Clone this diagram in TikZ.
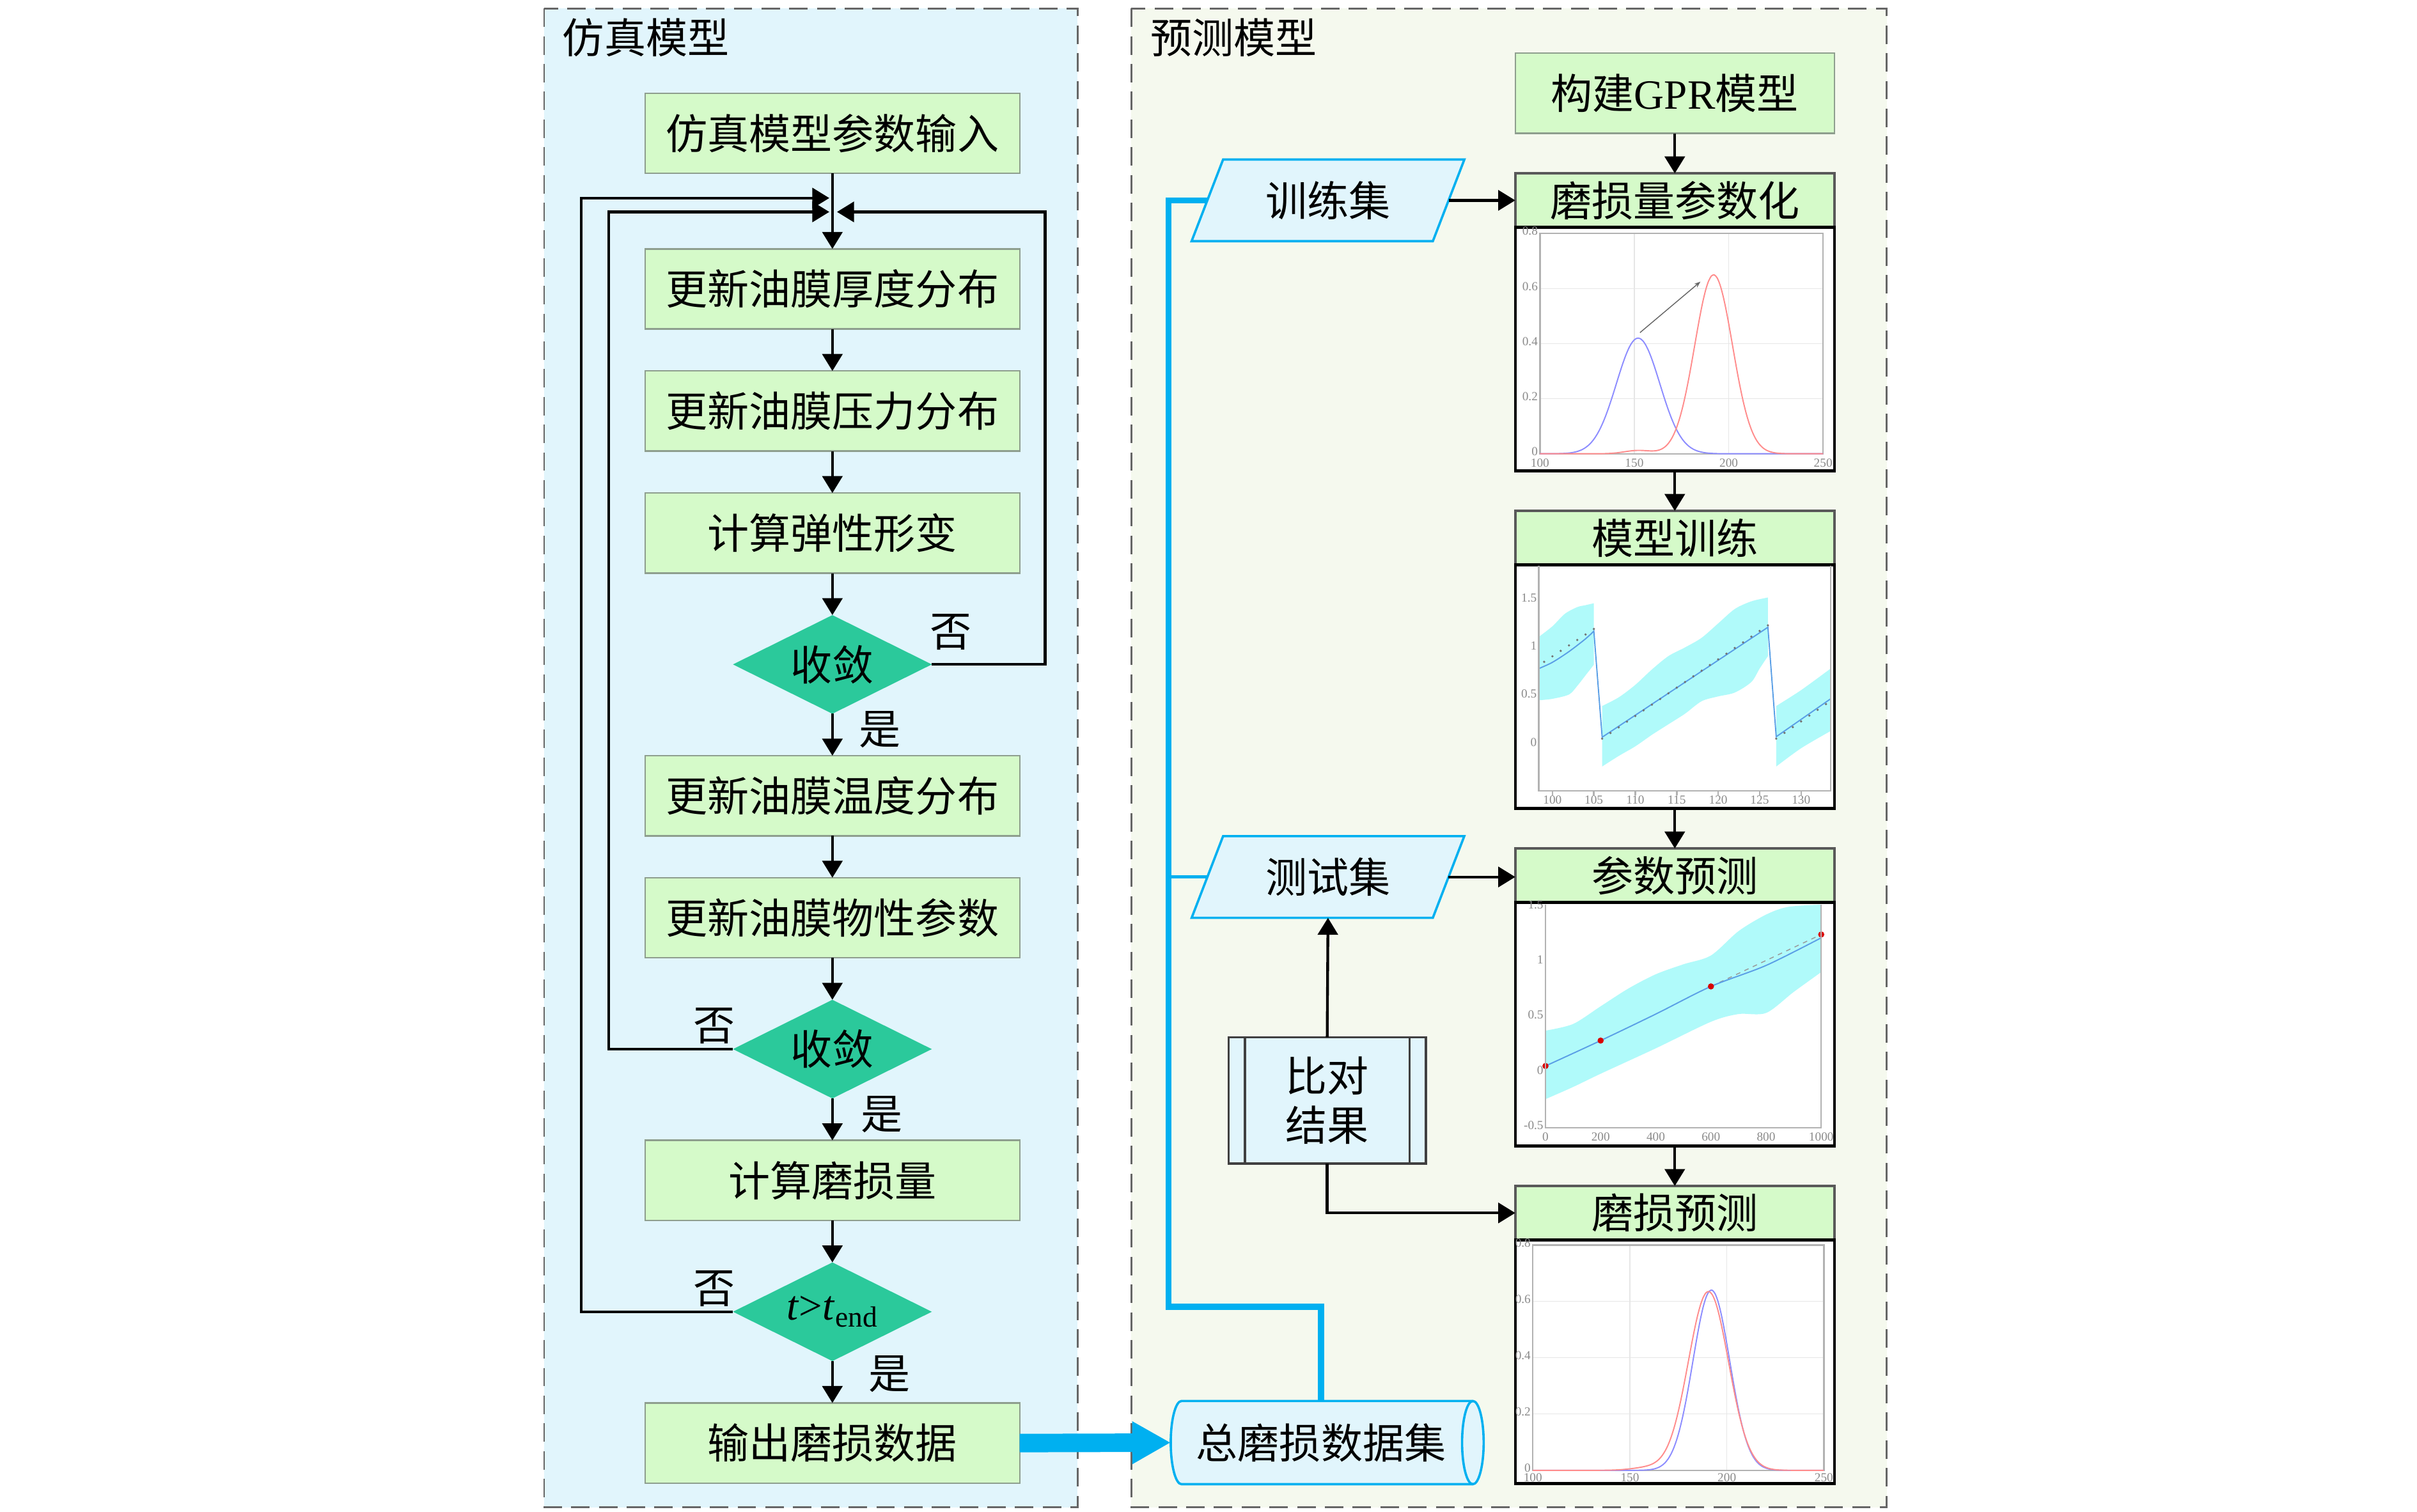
\documentclass[tikz,border=0pt]{standalone}
\usepackage{fontspec}
\setmainfont{Liberation Serif}
\newfontfamily\cjk{Noto Sans CJK SC}
\usetikzlibrary{positioning, shapes.geometric, arrows.meta}

\definecolor{simbg}{HTML}{E1F5FC}
\definecolor{predbg}{HTML}{F5F9EE}
\definecolor{boxgreen}{HTML}{D5FAC9}
\definecolor{boxedge}{HTML}{8E9E8E}
\definecolor{decgreen}{HTML}{2BC99B}
\definecolor{flowblue}{HTML}{00B0F0}
\definecolor{bandcyan}{HTML}{B0FAFA}
\definecolor{meanblue}{HTML}{5A9FE6}
\definecolor{ticklbl}{HTML}{8A8A8A}
\definecolor{gridgray}{HTML}{E6E6E6}

\begin{document}
\begin{tikzpicture}[x=1pt,y=-1pt]
\tikzset{every node/.style={font=\cjk\fontsize{27}{32}\selectfont}}
\tikzset{node distance=27.2pt}
\tikzset{simbox/.style={draw=boxedge, fill=boxgreen, line width=1pt, minimum width=243pt, minimum height=52pt, inner sep=0pt, outer sep=0pt}}
\tikzset{judge/.style={diamond, aspect=2, fill=decgreen, minimum width=129pt, minimum height=64pt, inner sep=0pt, outer sep=0pt}}
\tikzset{flow/.style={line width=1.8pt, -{Triangle[length=11pt,width=13pt]}}}
\tikzset{yesno/.style={inner sep=0pt}}
\tikzset{panel/.style={dash pattern=on 12pt off 6pt, draw=black!60, line width=1.2pt}}
\tikzset{hdr/.style={draw=black!65, fill=boxgreen, line width=1.5pt, minimum width=207pt, minimum height=35pt, inner sep=0pt, outer sep=0pt}}
\tikzset{plotbox/.style={draw=black, fill=white, line width=1.8pt, minimum width=207pt, minimum height=158pt, inner sep=0pt, outer sep=0pt}}
\tikzset{dataset/.style={trapezium, trapezium left angle=64, trapezium right angle=116, trapezium stretches=true, draw=flowblue, fill=simbg, line width=1.5pt, minimum width=177pt, minimum height=53pt, inner sep=0pt, outer sep=0pt}}
\tikzset{trunk/.style={draw=flowblue, line width=4pt}}
\tikzset{branch/.style={draw=flowblue, line width=2pt}}
\tikzset{bigarrow/.style={draw=flowblue, line width=12pt, -{Triangle[length=25pt,width=26pt]}}}
\tikzset{ticklab/.style={font=\fontsize{8}{9}\selectfont, text=ticklbl, inner sep=1.2pt}}
\tikzset{xlab/.style={ticklab, below, inner sep=0pt, yshift=-3pt}}
\tikzset{ylab/.style={ticklab, left, yshift=1.5pt}}
\tikzset{gridln/.style={draw=gridgray, line width=0.6pt}}
\tikzset{axisln/.style={draw=black!30, line width=1pt}}

\useasboundingbox (0,0) rectangle (1568,981);

% two model frames
\draw[panel, fill=simbg] (353,5.5) rectangle (699,978);
\draw[panel, fill=predbg] (734,5.5) rectangle (1224,978);
\node (simtitle) at (419,24.5) {仿真模型};
\node (predtitle) at (800.5,24.5) {预测模型};

% simulation loop
\node[simbox] (input) at (540,86.5) {仿真模型参数输入};
\node[simbox, below=49pt of input] (thick) {更新油膜厚度分布};
\node[simbox, below=of thick] (press) {更新油膜压力分布};
\node[simbox, below=of press] (deform) {计算弹性形变};
\node[judge, below=of deform] (conv1) {收敛};
\node[simbox, below=of conv1] (temp) {更新油膜温度分布};
\node[simbox, below=of temp] (prop) {更新油膜物性参数};
\node[judge, below=of prop] (conv2) {收敛};
\node[simbox, below=of conv2] (wear) {计算磨损量};
\node[judge, below=of wear] (tend) {{\rmfamily\textit{t}>\textit{t}\textsubscript{end}}};
\node[simbox, below=of tend] (out) {输出磨损数据};

\foreach \a/\b in {input/thick, thick/press, press/deform, deform/conv1, conv1/temp, temp/prop, prop/conv2, conv2/wear, wear/tend, tend/out}
  \draw[flow] (\a.south) -- (\b.north);

\coordinate (jout) at (538,128.5);
\coordinate (jin) at (538,137.5);
\coordinate (jright) at (543,137.5);
\draw[flow] (conv1.east) -| ([xshift=135pt]jright) -- (jright);
\draw[flow] (conv2.west) -| ([xshift=-143pt]jin) -- (jin);
\draw[flow] (tend.west) -| ([xshift=-161pt]jout) -- (jout);

\node[yesno] (no1) at (617,410) {否};
\node[yesno] (yes1) at (571,473.5) {是};
\node[yesno] (no2) at (463.5,665.5) {否};
\node[yesno] (yes2) at (572,723) {是};
\node[yesno] (no3) at (463.5,836) {否};
\node[yesno] (yes3) at (577,891.5) {是};

% data sets
\node[minimum width=203pt, minimum height=54pt, inner sep=0pt, outer sep=0pt] (db) at (861,936) {};
\draw[flowblue, fill=simbg, line width=1.5pt] ([xshift=7pt]db.north west) -- ([xshift=-7pt]db.north east)
  arc[start angle=90, end angle=-90, x radius=7pt, y radius=27pt] -- ([xshift=7pt]db.south west)
  arc[start angle=270, end angle=90, x radius=7pt, y radius=27pt] -- cycle;
\draw[flowblue, line width=1.5pt] ([xshift=-7pt]db.north east) arc[start angle=90, end angle=270, x radius=7pt, y radius=27pt];
\node (dbtext) at ([xshift=-4pt]db.center) {总磨损数据集};
\node[dataset] (trainset) at (861.5,130) {训练集};
\node[dataset] (testset) at (861.5,569) {测试集};
\node[draw=black!75, fill=simbg, line width=1.5pt, minimum width=128pt, minimum height=82pt, inner sep=0pt, outer sep=0pt, align=center] (cmp) at (861,714) {比对\\结果};
\draw[black!75, line width=1.5pt] ([xshift=10.6pt]cmp.north west) -- ([xshift=10.6pt]cmp.south west);
\draw[black!75, line width=1.5pt] ([xshift=-10.6pt]cmp.north east) -- ([xshift=-10.6pt]cmp.south east);

\draw[bigarrow] (out.east) -- (db.west);
\coordinate (bus) at (758,848);
\draw[trunk] ([xshift=-4pt]db.north) |- (bus) |- (trainset.west);
\draw[branch] (bus |- testset.west) -- (testset.west);

% prediction chain
\node[simbox, minimum width=207pt, font=\fontsize{27}{32}\selectfont] (gpr) at (1086.5,60.5) {{\cjk 构建}GPR{\cjk 模型}};
\node[hdr, below=26pt of gpr] (hpar) {磨损量参数化};
\node[plotbox, below=0pt of hpar] (fpar) {};
\node[hdr, below=26pt of fpar] (htrn) {模型训练};
\node[plotbox, below=0pt of htrn] (ftrn) {};
\node[hdr, below=26pt of ftrn] (hpre) {参数预测};
\node[plotbox, below=0pt of hpre] (fpre) {};
\node[hdr, below=26pt of fpre] (hwp) {磨损预测};
\node[plotbox, below=0pt of hwp] (fwp) {};

\draw[flow] (gpr.south) -- (hpar.north);
\draw[flow] (fpar.south) -- (htrn.north);
\draw[flow] (ftrn.south) -- (hpre.north);
\draw[flow] (fpre.south) -- (hwp.north);
\draw[flow] (trainset.east) -- (trainset.east -| hpar.west);
\draw[flow] (testset.east) -- (testset.east -| hpre.west);
\draw[flow] (cmp.north) -- (testset.south);
\draw[flow] (cmp.south) |- (hwp.west);

% plot: parameterisation
\begin{scope}[shift={(876.53,294.4)}, x=1.2247pt, y=178.6pt]
\foreach \g in {150,200} \draw[gridln] (\g,0) -- (\g,0.8);
\foreach \g in {0.2,0.4,0.6} \draw[gridln] (100,\g) -- (250,\g);
\draw[axisln] (100,0) rectangle (250,0.8);
\foreach \v in {100,150,200,250} \node[xlab] at (\v,0) {\v};
\foreach \v in {0,0.2,0.4,0.6,0.8} \node[ylab] at (100,\v) {\v};
\draw[blue!45, line width=0.8pt] plot[smooth, domain=100:250, samples=100] (\x, {0.42*exp(-((\x-152)^2)/264.5)});
\draw[red!45, line width=0.8pt] plot[smooth, domain=100:250, samples=100] (\x, {0.65*exp(-((\x-192)^2)/200)+0.012*exp(-((\x-152)^2)/100)});
\draw[black!60, line width=0.6pt, -{Stealth[length=4pt]}] (153,0.44) -- (185,0.625);
\end{scope}

% plot: training
\begin{scope}[shift={(469.4,483)}, x=5.377pt, y=62.3pt]
\fill[bandcyan] plot[smooth] coordinates {(98.36,1.12) (100,1.23) (101.5,1.36) (103,1.43) (104,1.45) (105,1.47)} -- plot[smooth] coordinates {(105,0.83) (104,0.72) (103,0.61) (102,0.52) (100,0.475) (98.36,0.46)} -- cycle;
\fill[bandcyan] plot[smooth] coordinates {(106,0.40) (108,0.49) (110,0.62) (112,0.78) (114,0.92) (116,1.01) (118,1.11) (120,1.26) (122,1.41) (124,1.49) (126,1.53)} -- plot[smooth] coordinates {(126,0.92) (125,0.79) (124,0.65) (122,0.54) (120,0.50) (118,0.45) (116,0.32) (114,0.21) (112,0.10) (110,-0.02) (108,-0.12) (106,-0.23)} -- cycle;
\fill[bandcyan] plot[smooth] coordinates {(127,0.40) (130,0.565) (133.57,0.79)} -- plot[smooth] coordinates {(133.57,0.14) (130,-0.04) (127,-0.23)} -- cycle;
\draw[meanblue, line width=0.8pt] plot[smooth] coordinates {(98.36,0.79) (100,0.855) (102,0.967) (104,1.1) (105,1.18)} -- (106,0.075) -- (126,1.22) -- (127,0.08) -- (133.57,0.475);
\foreach \i in {0,...,6} \fill[black!55] ({99+\i},{0.86+0.057*\i}) circle[radius=0.8pt];
\foreach \i in {0,...,20} \fill[black!55] ({106+\i},{0.06+0.059*\i}) circle[radius=0.8pt];
\foreach \i in {0,...,6} \fill[black!55] ({127+\i},{0.06+0.06*\i}) circle[radius=0.8pt];
\draw[axisln] (98.36,1.862) -- (98.36,-0.485) -- (133.57,-0.485) -- (133.57,1.862);
\foreach \v in {100,105,...,130} {
  \draw[axisln] (\v,-0.485) -- ++(0,-3pt);
  \node[xlab] at (\v,-0.485) {\v};
}
\foreach \v in {0,0.5,1,1.5} \node[ylab] at (98.36,\v) {\v};
\end{scope}

% plot: parameter prediction
\begin{scope}[shift={(1002.6,695.95)}, x=0.1789pt, y=71.7pt]
\fill[bandcyan] plot[smooth] coordinates {(0,0.38) (100,0.44) (200,0.6) (300,0.76) (400,0.89) (500,0.98) (600,1.06) (700,1.28) (800,1.43) (880,1.5) (1000,1.52)} -- plot[smooth] coordinates {(1000,0.91) (900,0.73) (800,0.54) (700,0.53) (600,0.46) (400,0.22) (200,-0.01) (100,-0.13) (0,-0.24)} -- cycle;
\draw[black!40, line width=0.6pt, dashed] (600,0.78) -- (1000,1.25);
\draw[meanblue, line width=0.8pt] plot[smooth] coordinates {(0,0.06) (200,0.29) (400,0.53) (600,0.78) (800,0.97) (1000,1.22)};
\foreach \p in {(0,0.06),(200,0.29),(600,0.78),(1000,1.25)} \fill[red!85!black] \p circle[radius=2pt];
\draw[axisln] (0,1.52) -- (0,-0.5) -- (1000,-0.5) -- (1000,1.52);
\foreach \v in {0,200,...,1000} \node[xlab] at (\v,-0.5) {\v};
\foreach \v in {-0.5,0,0.5,1,1.5} \node[ylab] at (0,\v) {\v};
\end{scope}

% plot: wear prediction
\begin{scope}[shift={(868.53,954)}, x=1.2587pt, y=182.75pt]
\foreach \g in {150,200} \draw[gridln] (\g,0) -- (\g,0.8);
\foreach \g in {0.2,0.4,0.6} \draw[gridln] (100,\g) -- (250,\g);
\draw[axisln] (100,0) rectangle (250,0.8);
\foreach \v in {100,150,200,250} \node[xlab, yshift=1pt] at (\v,0) {\v};
\foreach \v in {0,0.2,0.4,0.6,0.8} \node[ylab] at (100,\v) {\v};
\draw[blue!45, line width=0.8pt] plot[smooth, domain=100:250, samples=100] (\x, {0.64*exp(-((\x-192)^2)/180)});
\draw[red!45, line width=0.8pt] plot[smooth, domain=100:250, samples=100] (\x, {0.635*exp(-((\x-190.5)^2)/215)+0.01*exp(-((\x-160)^2)/150)});
\end{scope}
\end{tikzpicture}
\end{document}
